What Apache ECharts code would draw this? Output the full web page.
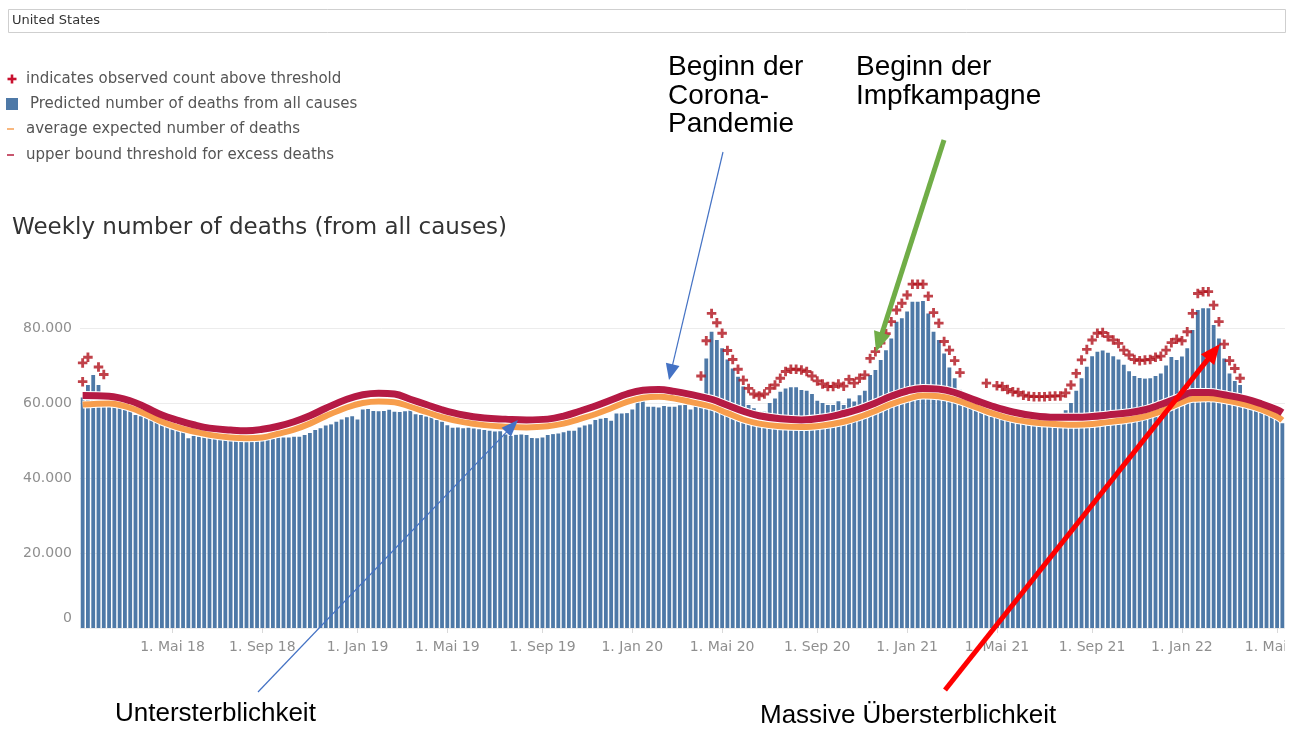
<!DOCTYPE html>
<html>
<head>
<meta charset="utf-8">
<script src="https://cdn.jsdelivr.net/npm/echarts@6/dist/echarts.min.js"></script>
<style>
html,body{margin:0;padding:0;background:#fff;}
#chart{width:1300px;height:729px;}
</style>
</head>
<body>
<div id="chart"></div>
<script>
// ---------- DATA (values in thousands of deaths) ----------
const firstWeekEnding = '2018-01-06';

// Predicted number of deaths from all causes, one value per week
const predictedDeaths = [
  61.5, 64.8, 67.5, 64.8, 60.2, 59.5, 59.2, 59.0, 58.4, 57.8,
  56.8, 56.5, 56.0, 55.5, 55.0, 54.3, 53.6, 53.0, 52.7, 52.4,
  50.6, 51.2, 51.0, 51.0, 50.8, 50.6, 50.5, 50.3, 50.2, 50.0,
  49.9, 49.8, 49.9, 50.0, 50.0, 50.2, 50.4, 50.8, 50.8, 50.8,
  51.0, 51.0, 51.5, 52.0, 52.8, 53.3, 54.0, 54.3, 55.0, 55.6,
  56.2, 56.5, 55.6, 58.3, 58.4, 57.9, 57.8, 57.9, 58.2, 57.7,
  57.6, 57.8, 58.0, 57.0, 56.8, 56.4, 56.2, 55.5, 55.0, 54.1,
  53.4, 53.5, 53.3, 53.4, 53.2, 53.0, 52.8, 52.6, 52.4, 52.5,
  51.6, 51.2, 51.5, 51.6, 51.5, 50.7, 50.6, 50.8, 51.5, 51.7,
  51.9, 52.2, 52.6, 52.6, 53.5, 54.0, 54.3, 55.5, 55.8, 56.0,
  55.3, 57.2, 57.2, 57.3, 58.3, 60.4, 60.6, 59.0, 59.0, 58.8,
  59.2, 59.0, 59.0, 59.4, 59.5, 58.3, 60.4, 62.0, 71.9, 79.0,
  76.8, 74.6, 71.6, 69.2, 67.0, 64.4, 59.5, 58.6, 57.7, 57.7,
  60.0, 61.2, 63.0, 63.9, 64.2, 64.2, 63.5, 63.3, 62.4, 60.6,
  60.0, 59.5, 59.5, 60.5, 59.5, 61.2, 60.4, 62.1, 63.3, 67.5,
  68.8, 71.5, 74.1, 77.2, 81.7, 82.6, 84.4, 87.0, 87.0, 87.2,
  83.9, 79.0, 76.8, 73.2, 69.5, 66.6, 63.5, 61.5, 60.0, 59.5,
  59.0, 58.5, 58.0, 57.6, 57.5, 57.2, 57.2, 57.0, 57.0, 56.8,
  56.8, 56.6, 57.0, 57.2, 57.0, 57.2, 58.1, 60.0, 63.3, 66.6,
  69.7, 72.5, 73.7, 74.0, 73.4, 72.5, 71.6, 70.2, 68.5, 67.2,
  66.7, 66.5, 66.6, 67.2, 67.9, 70.0, 72.3, 71.5, 72.4, 74.6,
  79.5, 84.8, 85.3, 85.3, 80.8, 77.2, 71.9, 67.9, 65.9, 64.8,
  61.0, 59.8, 59.0, 58.2, 57.4, 56.5, 55.6, 54.6
];

// "+" marks: observed count above threshold (week index, value)
const crossWeeks = [
  0, 0, 1, 3, 4,
  117, 118, 119, 120, 121, 122, 123, 124, 125, 126, 127, 128, 129, 130,
  131, 132, 133, 134, 135, 136, 137, 138, 139, 140, 141, 142, 143, 144,
  145, 146, 147, 148, 149, 150, 151, 152, 153, 154, 155, 156, 157, 158,
  159, 160, 161, 162, 163, 164, 165, 166,
  171, 173, 174, 175, 176, 177, 178, 179, 180, 181, 182, 183, 184, 185,
  186, 187, 188, 189, 190, 191, 192, 193, 194, 195, 196, 197, 198, 199,
  200, 201, 202, 203, 204, 205, 206, 207, 208, 209, 210, 211, 212, 213,
  214, 215, 216, 217, 218, 219
];
const crossValues = [
  65.7, 70.7, 72.2, 69.6, 67.6,
  67.2, 76.6, 83.9, 81.4, 78.6, 74.0, 71.6, 69.0, 66.1, 63.9, 62.4, 61.9, 62.4, 63.9,
  64.8, 66.6, 68.4, 69.0, 69.0, 68.8, 68.4, 67.2, 65.9, 65.1, 64.4, 64.4, 65.1, 64.5,
  66.3, 65.3, 66.6, 67.5, 71.9, 73.7, 76.0, 78.5, 81.7, 84.8, 86.6, 88.8, 91.7, 91.7,
  91.7, 88.5, 84.1, 81.3, 76.4, 74.1, 71.3, 68.1,
  65.3, 64.6, 64.4, 63.6, 63.0, 62.8, 62.1, 61.8, 61.7, 61.7, 61.7, 61.8, 61.9, 61.9,
  62.7, 64.8, 67.9, 71.5, 74.3, 76.8, 78.6, 78.8, 77.7, 76.8, 75.9, 74.1, 72.8, 71.6,
  71.3, 71.5, 71.6, 72.2, 72.5, 74.1, 76.1, 77.0, 76.6, 79.0, 83.9, 89.2, 89.7, 89.7,
  86.1, 81.7, 75.7, 71.3, 69.2, 66.6
];

// Read points of the two smooth reference curves (week index / value)
const lineWeeks = [
  0, 5, 9, 12, 15, 18, 21, 24, 28, 31, 34, 37, 40, 43, 46, 50, 53, 56, 59, 62,
  65, 68, 72, 76, 80, 84, 88, 91, 94, 97, 100, 103, 106, 109, 112, 115, 119, 122, 125, 128,
  132, 136, 140, 144, 147, 150, 153, 156, 159, 162, 165, 169, 172, 176, 180, 184, 188, 191, 194, 198,
  201, 204, 207, 210, 213, 216, 220, 223, 226, 227
];
const thresholdValues = [
  62.0, 61.8, 60.6, 58.8, 56.8, 55.4, 54.2, 53.3, 52.8, 52.6, 53.0, 53.8, 55.0, 56.6, 58.6, 61.0, 62.2, 62.6, 62.4, 61.0,
  59.6, 58.2, 56.8, 56.0, 55.7, 55.5, 55.7, 56.5, 57.8, 59.2, 60.8, 62.4, 63.4, 63.6, 63.1, 62.3, 61.0, 59.4, 57.8, 56.6,
  55.8, 55.5, 56.0, 57.2, 58.4, 60.0, 61.8, 63.2, 63.9, 63.7, 62.8, 60.7, 59.2, 57.6, 56.6, 56.2, 56.2, 56.4, 56.8, 57.4,
  58.2, 59.6, 61.2, 62.8, 62.8, 62.2, 61.1, 59.8, 58.2, 57.4
];
const expectedValues = [
  59.6, 59.9, 58.7, 57.0, 55.0, 53.5, 52.4, 51.5, 50.8, 50.6, 50.8, 51.8, 52.9, 54.5, 56.5, 58.8, 60.0, 60.4, 60.2, 59.0,
  57.6, 56.2, 54.9, 54.1, 53.7, 53.5, 53.8, 54.5, 55.7, 57.0, 58.6, 60.3, 61.4, 61.7, 61.2, 60.3, 59.0, 57.3, 55.6, 54.5,
  53.8, 53.6, 54.0, 55.0, 56.3, 57.9, 59.7, 61.1, 62.0, 61.8, 60.9, 58.9, 57.3, 55.7, 54.8, 54.4, 54.2, 54.4, 54.9, 55.6,
  56.4, 57.8, 59.6, 61.1, 61.3, 60.8, 59.6, 58.3, 56.4, 55.4
];

const tickLabels = ['1. Mai 18','1. Sep 18','1. Jan 19','1. Mai 19','1. Sep 19','1. Jan 20',
  '1. Mai 20','1. Sep 20','1. Jan 21','1. Mai 21','1. Sep 21','1. Jan 22','1. Mai 22'];
const yTickValues = [0, 20, 40, 60, 80];

// ---------- build ----------
const DAY = 864e5;
const t0 = Date.parse(firstWeekEnding + 'T00:00:00Z');
const categories = predictedDeaths.map((_, i) => new Date(t0 + i * 7 * DAY).toISOString().slice(0, 10));
const monthNames = {0: 'Jan', 4: 'Mai', 8: 'Sep'};
function labelFor(i) {
  const end = t0 + i * 7 * DAY;
  for (let d = 6; d >= 0; d--) {
    const dt = new Date(end - d * DAY);
    if (dt.getUTCDate() === 1 && monthNames[dt.getUTCMonth()]) {
      const s = '1. ' + monthNames[dt.getUTCMonth()] + ' ' + String(dt.getUTCFullYear()).slice(2);
      if (tickLabels.indexOf(s) >= 0) return s;
    }
  }
  return '';
}
const crossData = crossWeeks.map((w, k) => [w, crossValues[k]]);
const thresholdData = lineWeeks.map((w, k) => [w, thresholdValues[k]]);
const expectedData = lineWeeks.map((w, k) => [w, expectedValues[k]]);

const BLUE = '#4e79a7', ORANGE = '#f79d4c', CRIMSON = '#b51a44', CROSS = '#b0121c';
const TFONT = '"DejaVu Sans", "Open Sans", sans-serif';
const AFONT = '"Liberation Sans", Arial, sans-serif';
const plusPath = 'path://M3.5,0H6.5V3.5H10V6.5H6.5V10H3.5V6.5H0V3.5H3.5Z';

function arrow(x1, y1, x2, y2, color, lw, hl, hw) {
  const dx = x2 - x1, dy = y2 - y1, L = Math.hypot(dx, dy), ux = dx / L, uy = dy / L;
  const bx = x2 - ux * hl, by = y2 - uy * hl, px = -uy, py = ux;
  return [
    {type: 'line', z: 100, shape: {x1: x1, y1: y1, x2: bx + ux, y2: by + uy},
      style: {stroke: color, lineWidth: lw, lineCap: 'butt'}},
    {type: 'polygon', z: 100, shape: {points: [[x2, y2], [bx + px * hw / 2, by + py * hw / 2], [bx - px * hw / 2, by - py * hw / 2]]},
      style: {fill: color}}
  ];
}
function txt(x, y, s, font, fill) {
  return {type: 'text', x: x, y: y, z: 100,
    style: {text: s, font: font, fill: fill, verticalAlign: 'middle', align: 'left'}};
}

const legendFont = '15px ' + TFONT;
const graphics = [
  // selector box
  {type: 'rect', z: 100, shape: {x: 8.5, y: 9.5, width: 1277, height: 23},
    style: {fill: '#fff', stroke: '#cfcfcf', lineWidth: 1}},
  txt(12, 21, 'United States', '13px ' + TFONT, '#333'),
  // legend
  {type: 'rect', z: 100, shape: {x: 7.5, y: 77.7, width: 9, height: 2.6}, style: {fill: '#c8102e'}},
  {type: 'rect', z: 100, shape: {x: 10.7, y: 74.5, width: 2.6, height: 9}, style: {fill: '#c8102e'}},
  txt(26, 79, 'indicates observed count above threshold', legendFont, '#555'),
  {type: 'rect', z: 100, shape: {x: 6, y: 98, width: 12, height: 12}, style: {fill: BLUE}},
  txt(30, 104, 'Predicted number of deaths from all causes', legendFont, '#555'),
  {type: 'rect', z: 100, shape: {x: 7, y: 128, width: 7, height: 2}, style: {fill: '#f8b77e'}},
  txt(26, 129, 'average expected number of deaths', legendFont, '#555'),
  {type: 'rect', z: 100, shape: {x: 7, y: 154, width: 7, height: 2}, style: {fill: '#c8566e'}},
  txt(26, 155, 'upper bound threshold for excess deaths', legendFont, '#555'),
  // title
  txt(12, 228, 'Weekly number of deaths (from all causes)', '23px ' + TFONT, '#333'),
  // annotations
  txt(668, 67, 'Beginn der', '28px ' + AFONT, '#000'),
  txt(668, 96, 'Corona-', '28px ' + AFONT, '#000'),
  txt(668, 124, 'Pandemie', '28px ' + AFONT, '#000'),
  txt(856, 67, 'Beginn der', '28px ' + AFONT, '#000'),
  txt(856, 96, 'Impfkampagne', '28px ' + AFONT, '#000'),
  txt(115, 714, 'Untersterblichkeit', '26px ' + AFONT, '#000'),
  txt(760, 716, 'Massive Übersterblichkeit', '26px ' + AFONT, '#000'),
  // cover for clipped last axis label (reference view is cut at the right edge)
  {type: 'rect', z: 99, shape: {x: 1285, y: 636, width: 15, height: 26}, style: {fill: '#fff'}}
].concat(
  arrow(723, 152, 669, 380, '#4472c4', 1.2, 16, 14),
  arrow(258, 692, 518, 420, '#4472c4', 1.2, 17, 13),
  arrow(944, 140, 876, 352, '#70ad47', 5, 20, 17),
  arrow(945, 690, 1220, 344, '#ff0000', 5, 20, 17)
);

const chart = echarts.init(document.getElementById('chart'), null, {renderer: 'canvas'});
chart.setOption({
  animation: false,
  backgroundColor: '#fff',
  grid: {left: 80, right: 15, top: 253, bottom: 101, containLabel: false, outerBoundsMode: 'none'},
  xAxis: {
    type: 'category',
    data: categories,
    boundaryGap: true,
    axisLine: {show: false},
    axisTick: {show: true, alignWithLabel: true, length: 5, lineStyle: {color: '#d9d9d9'},
      interval: function (i) { return labelFor(i) !== ''; }},
    axisLabel: {
      interval: function (i) { return labelFor(i) !== ''; },
      formatter: function (v, i) { return labelFor(i); },
      color: '#8f8f8f', fontSize: 14, fontFamily: TFONT, margin: 12
    },
    splitLine: {show: false}
  },
  yAxis: {
    type: 'value', min: 0, max: 100, interval: 20,
    axisLine: {show: false}, axisTick: {show: false},
    axisLabel: {
      color: '#8f8f8f', fontSize: 14, fontFamily: TFONT, margin: 8,
      formatter: function (v) {
        if (yTickValues.indexOf(v) < 0) return '';
        return v === 0 ? '{z|0}' : v + '.000';
      },
      rich: {z: {color: '#8f8f8f', fontSize: 14, fontFamily: TFONT, padding: [0, 0, 20, 0]}}
    },
    splitLine: {show: true, lineStyle: {color: ['#ececec', '#ececec', '#ececec', '#ececec', '#ececec', 'rgba(0,0,0,0)'], width: 1}}
  },
  series: [
    {type: 'bar', name: 'Predicted', data: predictedDeaths, barCategoryGap: '28%',
      itemStyle: {color: BLUE}, z: 2, silent: true},
    {type: 'line', name: 'expected-halo', data: expectedData, smooth: 0.4, symbol: 'none',
      lineStyle: {color: '#fff', width: 8}, z: 3, silent: true},
    {type: 'line', name: 'threshold-halo', data: thresholdData, smooth: 0.4, symbol: 'none',
      lineStyle: {color: '#fff', width: 9}, z: 3, silent: true},
    {type: 'line', name: 'average expected number of deaths', data: expectedData, smooth: 0.4, symbol: 'none',
      lineStyle: {color: ORANGE, width: 6}, z: 4, silent: true},
    {type: 'line', name: 'upper bound threshold', data: thresholdData, smooth: 0.4, symbol: 'none',
      lineStyle: {color: CRIMSON, width: 7}, z: 5, silent: true},
    {type: 'scatter', name: 'observed above threshold', data: crossData, symbol: plusPath, symbolSize: 9.5,
      itemStyle: {color: CROSS}, z: 6, silent: true}
  ],
  graphic: {elements: graphics}
});
</script>
</body>
</html>
